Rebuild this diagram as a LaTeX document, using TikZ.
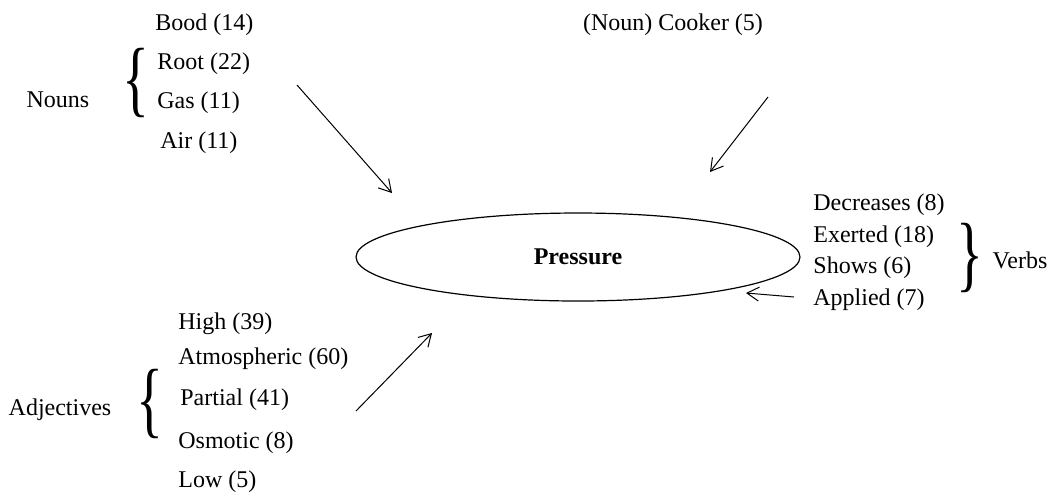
\documentclass[tikz,border=0pt]{standalone}
\usepackage{fontspec}
\usepackage{graphicx}
\setmainfont{Liberation Serif}
\usetikzlibrary{arrows.meta, shapes.geometric, positioning}

\newcommand{\slimbrace}[1]{\scalebox{0.7}[1.05]{#1}}

\begin{document}
\begin{tikzpicture}[x=0.5pt, y=-0.5pt,
  word/.style={anchor=west, inner sep=0pt, font=\fontsize{12}{14}\selectfont},
  group/.style={inner sep=0pt, font=\fontsize{12}{14}\selectfont},
  bracket/.style={inner sep=0pt, font=\fontsize{40}{40}\selectfont},
  link/.style={line width=0.5pt, -{Straight Barb[length=6pt, width=7pt]}}
]
  \useasboundingbox (0,0) rectangle (1056,495);

  % centre
  \node[ellipse, draw, line width=0.6pt, minimum width=222pt, minimum height=44pt, inner sep=0pt,
        font=\fontsize{12}{14}\selectfont\bfseries] (pressure) at (578,257) {Pressure};

  % Nouns
  \node[word] (bood) at (155,25) {Bood (14)};
  \node[word] (root) at (157,64) {Root (22)};
  \node[word] (gas) at (157,103) {Gas (11)};
  \node[word] (air) at (160,143) {Air (11)};
  \node[bracket] (nbrace) at (136,83) {\slimbrace{\{}};
  \node[group] (nouns) at (58,100) {Nouns};

  % Cooker
  \node[group] (cooker) at (673,25) {(Noun) Cooker (5)};

  % Verbs
  \node[word] (decreases) at (813,205) {Decreases (8)};
  \node[word] (exerted) at (813,237) {Exerted (18)};
  \node[word] (shows) at (813,268) {Shows (6)};
  \node[word] (applied) at (813,300) {Applied (7)};
  \node[bracket] (vbrace) at (970,258) {\slimbrace{\}}};
  \node[group] (verbs) at (1020,260) {Verbs};

  % Adjectives
  \node[word] (high) at (178,324) {High (39)};
  \node[word] (atmospheric) at (178,359) {Atmospheric (60)};
  \node[word] (partial) at (180,400) {Partial (41)};
  \node[word] (osmotic) at (178,443) {Osmotic (8)};
  \node[word] (low) at (178,482) {Low (5)};
  \node[bracket] (abrace) at (150,404) {\slimbrace{\{}};
  \node[group] (adjectives) at (60,410) {Adjectives};

  % arrow ends
  \coordinate (nstart) at (297,85);
  \coordinate (nend) at (392,193);
  \coordinate (cstart) at (768,97);
  \coordinate (cend) at (710,172);
  \coordinate (vstart) at (794,297);
  \coordinate (vend) at (746,293);
  \coordinate (astart) at (356,411);
  \coordinate (aend) at (432,333);

  \draw[link] (nstart) -- (nend);
  \draw[link] (cstart) -- (cend);
  \draw[link] (vstart) -- (vend);
  \draw[link] (astart) -- (aend);
\end{tikzpicture}
\end{document}
